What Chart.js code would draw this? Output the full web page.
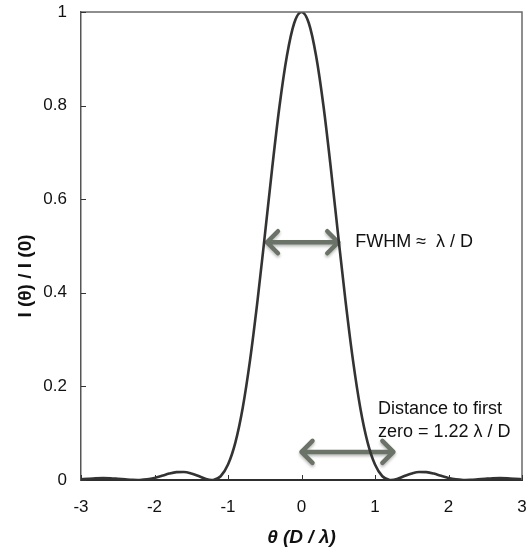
<!DOCTYPE html>
<html>
<head>
<meta charset="utf-8">
<script src="https://cdn.jsdelivr.net/npm/chart.js@4/dist/chart.umd.min.js"></script>
<style>
  html, body { margin: 0; padding: 0; background: #ffffff; }
  #wrap { width: 531px; height: 551px; position: relative; }
</style>
</head>
<body>
<div id="wrap"><canvas id="c" width="531" height="551"></canvas></div>
<script>
// ---- data ----
const thetaValues = [
  -3.0, -2.9, -2.8, -2.7, -2.6, -2.5, -2.4, -2.3, -2.23, -2.2, -2.1, -2.0,
  -1.9, -1.8, -1.7, -1.6, -1.5, -1.4, -1.3, -1.22, -1.2, -1.1, -1.0,
  -0.9, -0.8, -0.7, -0.6, -0.5, -0.4, -0.3, -0.2, -0.1, 0.0,
  0.1, 0.2, 0.3, 0.4, 0.5, 0.6, 0.7, 0.8, 0.9,
  1.0, 1.1, 1.2, 1.22, 1.3, 1.4, 1.5, 1.6, 1.7, 1.8, 1.9,
  2.0, 2.1, 2.2, 2.23, 2.3, 2.4, 2.5, 2.6, 2.7, 2.8, 2.9, 3.0
];
const intensityValues = [
  0.0014, 0.0026, 0.0036, 0.0041, 0.0039, 0.0028, 0.0015, 0.0003, 0.0, 0.0001, 0.0015, 0.0045,
  0.0089, 0.0137, 0.0168, 0.0172, 0.0141, 0.0085, 0.0022, 0.0, 0.0002, 0.008, 0.033,
  0.080, 0.154, 0.256, 0.381, 0.521, 0.665, 0.798, 0.905, 0.976, 1.0,
  0.976, 0.905, 0.798, 0.665, 0.521, 0.381, 0.256, 0.154, 0.080,
  0.033, 0.008, 0.0002, 0.0, 0.0022, 0.0085, 0.0141, 0.0172, 0.0168, 0.0137, 0.0089,
  0.0045, 0.0015, 0.0001, 0.0, 0.0003, 0.0015, 0.0028, 0.0039, 0.0041, 0.0036, 0.0026, 0.0014
];
const xTickValues = [-3, -2, -1, 0, 1, 2, 3];
const xTickLabels = ['-3', '-2', '-1', '0', '1', '2', '3'];
const yTickValues = [0, 0.2, 0.4, 0.6, 0.8, 1];
const yTickLabels = ['0', '0.2', '0.4', '0.6', '0.8', '1'];
const xAxisTitle = 'θ (D / λ)';
const yAxisTitle = 'I (θ) / I (0)';
// double arrows (data units): start θ, end θ, level
const arrowStartTheta = [-0.47, 0.0];
const arrowEndTheta = [0.5, 1.25];
const arrowLevel = [0.508, 0.06];
const noteLines = [['FWHM ≈  λ / D'], ['Distance to first', 'zero = 1.22 λ / D']];
const noteTheta = [0.73, 1.04];
const noteLevel = [0.508, 0.152];

const FONT = "Arial, 'Liberation Sans', Helvetica, sans-serif";
const points = thetaValues.map((t, i) => ({ x: t, y: intensityValues[i] }));

const decor = {
  id: 'decor',
  beforeDatasetsDraw(chart) {
    const ctx = chart.ctx, xs = chart.scales.x, ys = chart.scales.y;
    ctx.save();
    for (let i = 0; i < arrowStartTheta.length; i++) {
      const x1 = xs.getPixelForValue(arrowStartTheta[i]);
      const x2 = xs.getPixelForValue(arrowEndTheta[i]);
      const y = ys.getPixelForValue(arrowLevel[i]);
      ctx.strokeStyle = '#6b7368';
      ctx.lineWidth = 4.5;
      ctx.lineCap = 'round';
      ctx.lineJoin = 'round';
      ctx.shadowColor = 'rgba(0,0,0,0.28)';
      ctx.shadowBlur = 3;
      ctx.shadowOffsetY = 2;
      const h = 11;
      ctx.beginPath();
      ctx.moveTo(x1, y); ctx.lineTo(x2, y);
      ctx.moveTo(x1 + h, y - h); ctx.lineTo(x1, y); ctx.lineTo(x1 + h, y + h);
      ctx.moveTo(x2 - h, y - h); ctx.lineTo(x2, y); ctx.lineTo(x2 - h, y + h);
      ctx.stroke();
    }
    ctx.restore();
  },
  afterDraw(chart) {
    const ctx = chart.ctx, xs = chart.scales.x, ys = chart.scales.y;
    const a = chart.chartArea;
    ctx.save();
    // frame top and right
    ctx.strokeStyle = '#6a6a6a';
    ctx.lineWidth = 1.5;
    ctx.beginPath();
    ctx.moveTo(a.left, a.top); ctx.lineTo(a.right, a.top); ctx.lineTo(a.right, a.bottom);
    ctx.stroke();
    // inward tick marks
    ctx.strokeStyle = '#333';
    ctx.lineWidth = 1;
    ctx.beginPath();
    xTickValues.forEach(v => {
      const px = Math.round(xs.getPixelForValue(v)) + 0.5;
      ctx.moveTo(px, a.bottom); ctx.lineTo(px, a.bottom - 5);
    });
    yTickValues.forEach(v => {
      const py = Math.round(ys.getPixelForValue(v)) + 0.5;
      ctx.moveTo(a.left, py); ctx.lineTo(a.left + 5, py);
    });
    ctx.stroke();
    // notes
    ctx.fillStyle = '#111';
    ctx.font = '18px ' + FONT;
    ctx.textBaseline = 'middle';
    ctx.textAlign = 'left';
    for (let i = 0; i < noteLines.length; i++) {
      const x = xs.getPixelForValue(noteTheta[i]);
      const y0 = ys.getPixelForValue(noteLevel[i]);
      noteLines[i].forEach((line, j) => ctx.fillText(line, x, y0 + j * 23));
    }
    // y axis title
    ctx.font = 'bold 19px ' + FONT;
    ctx.textAlign = 'center';
    ctx.translate(26, 276);
    ctx.rotate(-Math.PI / 2);
    ctx.fillText(yAxisTitle, 0, 0);
    ctx.restore();
  }
};

new Chart(document.getElementById('c'), {
  type: 'line',
  data: {
    datasets: [{
      data: points,
      borderColor: '#333333',
      borderWidth: 2.6,
      pointRadius: 0,
      fill: false,
      cubicInterpolationMode: 'monotone'
    }]
  },
  options: {
    responsive: false,
    animation: false,
    devicePixelRatio: 1,
    layout: { padding: { top: 12, right: 9, bottom: 0, left: 0 } },
    plugins: { legend: { display: false }, tooltip: { enabled: false } },
    scales: {
      x: {
        type: 'linear',
        min: -3, max: 3,
        afterFit(s) { s.height = 71; s.paddingLeft = 0; s.paddingRight = 0; },
        afterBuildTicks(s) { s.ticks = xTickValues.map(v => ({ value: v })); },
        grid: { display: false, drawTicks: false },
        border: { display: true, color: '#2e2e2e', width: 2 },
        ticks: {
          padding: 17,
          color: '#111',
          font: { family: FONT, size: 17 },
          maxRotation: 0,
          callback: (v) => xTickLabels[xTickValues.indexOf(v)]
        },
        title: {
          display: true,
          text: xAxisTitle,
          color: '#111',
          font: { family: FONT, size: 19, weight: 'bold', style: 'italic' },
          padding: { top: 0, bottom: 2 }
        }
      },
      y: {
        type: 'linear',
        min: 0, max: 1,
        afterFit(s) { s.width = 81; s.paddingTop = 0; s.paddingBottom = 0; },
        afterBuildTicks(s) { s.ticks = yTickValues.map(v => ({ value: v })); },
        grid: { display: false, drawTicks: false },
        border: { display: true, color: '#555', width: 1.5 },
        ticks: {
          padding: 14,
          color: '#111',
          font: { family: FONT, size: 17 },
          callback: (v) => yTickLabels[yTickValues.indexOf(v)]
        },
        title: { display: false }
      }
    }
  },
  plugins: [decor]
});
</script>
</body>
</html>
